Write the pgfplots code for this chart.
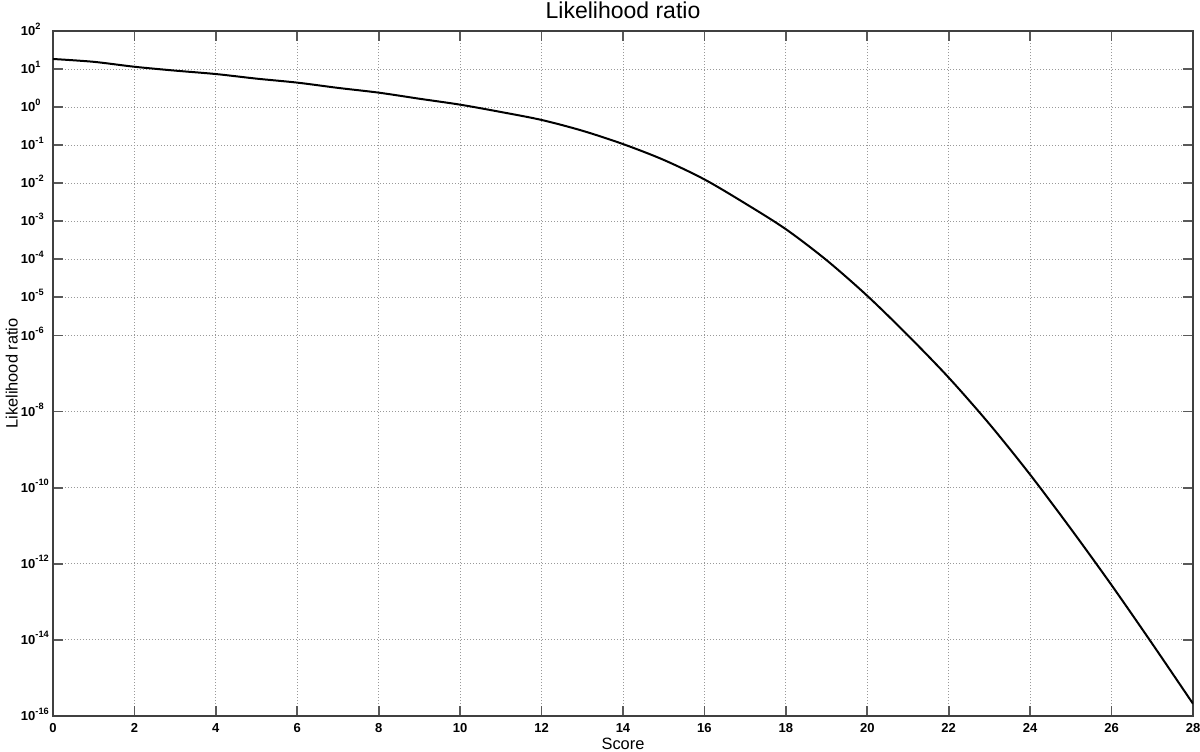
\documentclass[border=0pt]{standalone}
\usepackage{pgfplots}
\pgfplotsset{compat=1.18}
\usepackage{fontspec}
\setmainfont{Liberation Sans}
\newcommand{\tl}[1]{\textbf{10}\raisebox{0.95ex}{\fontsize{4.6}{5}\selectfont\textbf{#1}}}
\begin{document}
\begin{tikzpicture}
\useasboundingbox (-26.5pt,-17.5pt) rectangle (573.5pt,358pt);
\begin{axis}[
  at={(0pt,0pt)}, anchor=south west,
  scale only axis, width=570pt, height=342.5pt,
  ymode=log,
  xmin=0, xmax=28, ymin=1e-16, ymax=1e2,
  xtick={0,2,...,28},
  xticklabels={\textbf{0},\textbf{2},\textbf{4},\textbf{6},\textbf{8},\textbf{10},\textbf{12},\textbf{14},\textbf{16},\textbf{18},\textbf{20},\textbf{22},\textbf{24},\textbf{26},\textbf{28}},
  ytick={1e-16,1e-14,1e-12,1e-10,1e-8,1e-6,1e-5,1e-4,1e-3,1e-2,1e-1,1,1e1,1e2},
  yticklabels={\tl{-16},\tl{-14},\tl{-12},\tl{-10},\tl{-8},\tl{-6},\tl{-5},\tl{-4},\tl{-3},\tl{-2},\tl{-1},\tl{0},\tl{1},\tl{2}},
  minor tick num=0,
  tick align=inside, major tick length=5pt,
  tick style={line width=0.9pt, black!65},
  xtick pos=both, ytick pos=both,
  axis line style={line width=0.6pt, black!75},
  grid=major,
  major grid style={gray!80, line width=0.5pt, dash pattern=on 0.5pt off 1pt},
  ticklabel style={font=\fontsize{6.5}{7}\selectfont, inner sep=0pt},
  xticklabel style={anchor=north, yshift=-3.65pt},
  yticklabel style={anchor=base west, xshift=-16.2pt, yshift=-2.3pt},
  title={Likelihood ratio},
  title style={font=\fontsize{11.5}{13}\selectfont, at={(axis description cs:0.5,1)}, anchor=base, yshift=0.5pt},
  xlabel={Score},
  xlabel style={font=\fontsize{8.2}{10}\selectfont, at={(axis description cs:0.5,0)}, anchor=base, yshift=-16.5pt},
  ylabel={Likelihood ratio},
  ylabel style={font=\fontsize{8.2}{10}\selectfont, at={(axis description cs:-0.0311,0.5)}, anchor=base},
]
\addplot[black, line width=1pt, smooth] table[x=x, y=y] {
x y
0 18.4
1 15.5
2 11.5
3 9.1
4 7.4
5 5.6
6 4.4
7 3.2
8 2.4
9 1.66
10 1.16
11 0.745
12 0.46
13 0.24
14 0.107
15 0.041
16 0.0126
17 2.95e-3
18 6.2e-4
19 9.5e-5
20 1.1e-5
21 1.0e-6
22 7.8e-8
23 4.7e-9
24 2.2e-10
25 8.3e-12
26 2.75e-13
27 7.9e-15
28 2.1e-16
};
\end{axis}
\end{tikzpicture}
\end{document}
